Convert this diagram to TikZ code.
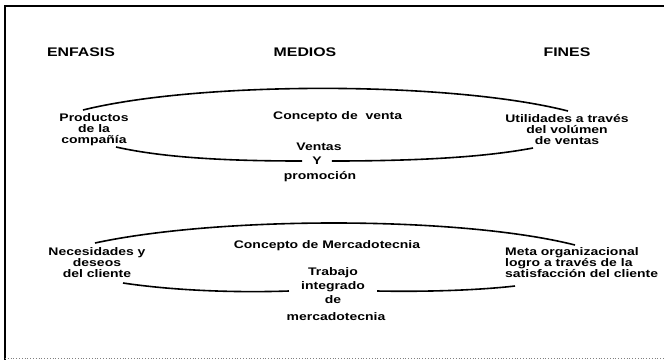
\documentclass[tikz,border=0pt]{standalone}
\usepackage{fontspec}
\newfontfamily\scanfont[FakeStretch=1.27]{Liberation Sans}
\usepackage{tikz}
\usetikzlibrary{positioning}
\tikzstyle{bodytext} = [font=\scanfont\bfseries\fontsize{11}{11}\selectfont, align=center, inner sep=0pt]
\tikzstyle{titletext} = [font=\scanfont\bfseries\fontsize{12.5}{12.5}\selectfont, inner sep=0pt]
\tikzstyle{oval} = [line width=1.6pt]

\begin{document}
\begin{tikzpicture}[x=1pt, y=-1pt, node distance=14pt]
                    \useasboundingbox (0,0) rectangle (664,360);
                    \draw[line width=1.5pt] (664,6) -- (5,6) -- (5,360);
                    \draw[gray, dotted, line width=0.8pt] (5,358) -- (664,358);

                    \node (enfasis) [titletext] at (81,52) {ENFASIS};
                    \node (medios) [titletext] at (305,52) {MEDIOS};
                    \node (fines) [titletext] at (567,52) {FINES};

                    \node (productos) [bodytext] at (94,130) {Productos\\de la\\compañía};
                    \node (venta) [bodytext, anchor=west] at (273,117) {Concepto de\ \ venta};
                    \node (utilidades) [bodytext] at (567,130) {Utilidades a través\\del volúmen\\de ventas};
                    \node (y) [bodytext, inner xsep=10pt] at (317,161) {Y};
                    \node (ventas) [bodytext, above of=y, xshift=2pt] {Ventas};
                    \node (promocion) [bodytext, below of=y, node distance=16pt, xshift=3pt] {promoción};

                    \node (necesidades) [bodytext] at (97,263) {Necesidades y\\deseos\\del cliente};
                    \node (mercadotecnia) [bodytext] at (327,246) {Concepto de Mercadotecnia};
                    \node (meta) [bodytext, anchor=west, align=left] at (505,263) {Meta organizacional\\logro a través de la\\satisfacción del cliente};
                    \node (integrado) [bodytext, inner xsep=12pt] at (333,287) {integrado};
                    \node (trabajo) [bodytext, above of=integrado] {Trabajo};
                    \node (de) [bodytext, below of=integrado, node distance=13pt] {de};
                    \node (mercado) [bodytext, below of=de, node distance=17pt, xshift=3pt] {mercadotecnia};

                    \coordinate (vt1) at (83,110);
                    \coordinate (vt2) at (568,111);
                    \coordinate (vb1) at (116,147);
                    \coordinate (vb2) at (533,148);
                    \coordinate (mt1) at (95,243);
                    \coordinate (mt2) at (575,245);
                    \coordinate (mb1) at (123,283);
                    \coordinate (mb2) at (515,286);

                    \draw[oval] (vt1) .. controls (200,81) and (450,81) .. (vt2);
                    \draw[oval] (vb1) .. controls (165,158) and (230,161) .. (y.west);
                    \draw[oval] (y.east) .. controls (420,161) and (485,157) .. (vb2);
                    \draw[oval] (mt1) .. controls (220,216) and (460,216) .. (mt2);
                    \draw[oval] (mb1) .. controls (170,290) and (230,293) .. ([yshift=-4pt]integrado.west);
                    \draw[oval] ([yshift=-4pt]integrado.east) .. controls (430,292) and (480,290) .. (mb2);
                \end{tikzpicture}
\end{document}
